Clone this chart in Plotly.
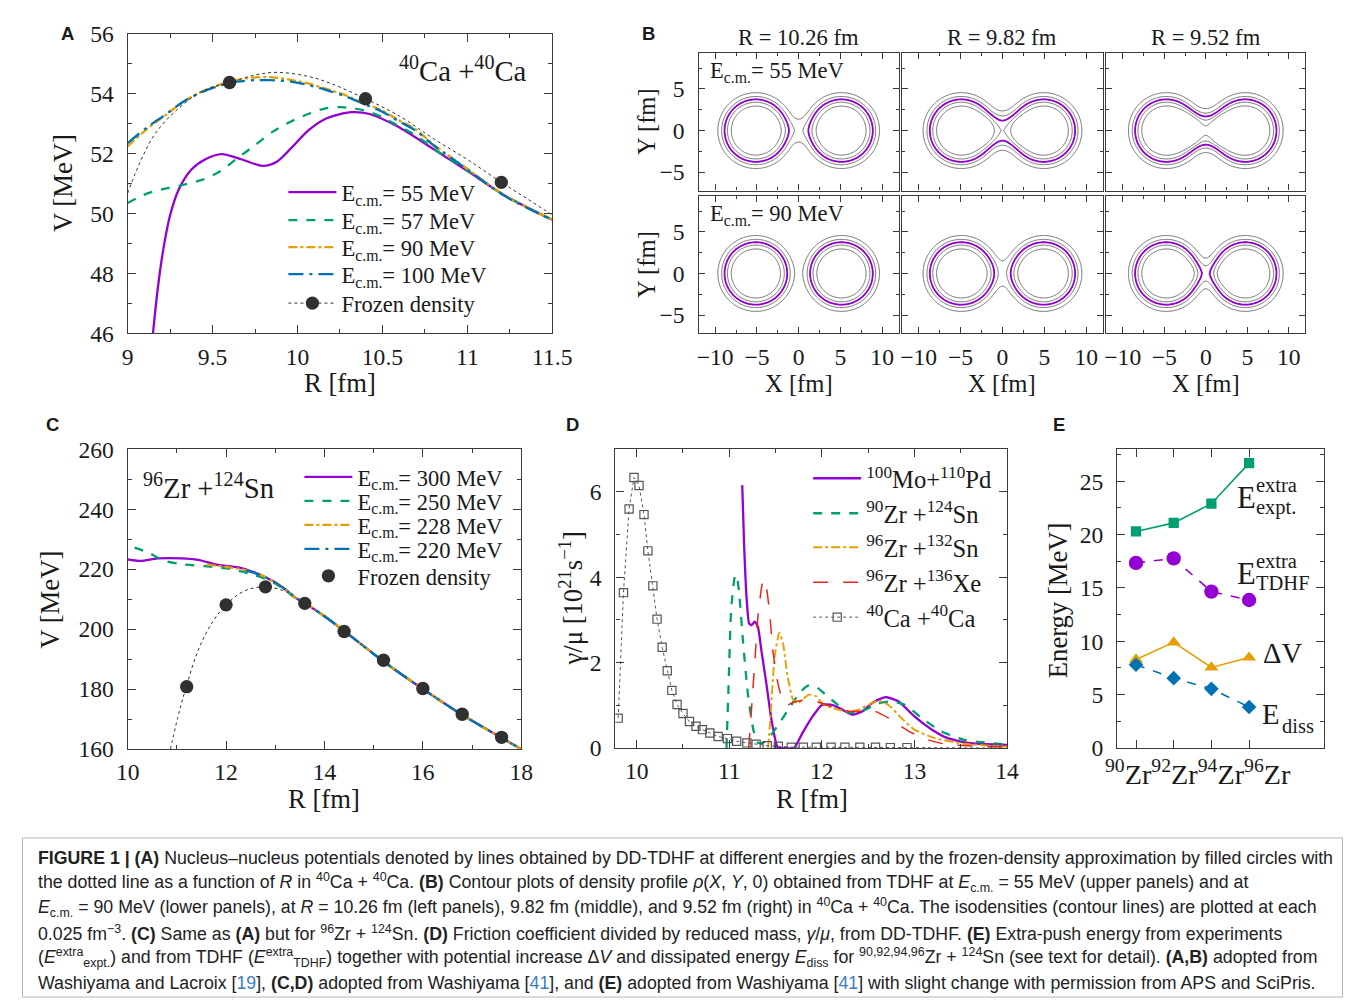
import numpy as np
import plotly.graph_objects as go

# Layout positions below are given in reference-picture pixels; the page is shown
# at scale S with offset (OX, OY), so every position and size is converted.
FW, FH = 1360, 1003
S, OX, OY = 0.975, 19.5, 20.3
SERIF = "Liberation Serif, Times New Roman, serif"
SANS = "Liberation Sans, Arial, sans-serif"
TXT = "#1a1a1a"
AXC = "#3a3a3a"

C_PURPLE = "#9400D3"
C_GREEN = "#009E73"
C_ORANGE = "#E69F00"
C_BLUE = "#0072B2"
C_RED = "#E5261A"
C_BLACK = "#303030"
C_GRAY = "#6e6e6e"

# ---------------- Panel A data (40Ca + 40Ca) ----------------
A_R55 = [9.149, 9.174, 9.206, 9.248, 9.30, 9.374, 9.458, 9.553, 9.668, 9.794, 9.878, 9.962,
         10.067, 10.172, 10.319, 10.424, 10.59, 10.80, 11.01, 11.22, 11.5]
A_V55 = [46.0, 47.34, 48.67, 49.9, 50.79, 51.46, 51.81, 51.98, 51.81, 51.59, 51.73, 52.18,
         52.79, 53.18, 53.38, 53.32, 52.9, 52.15, 51.38, 50.6, 49.79]
A_R57 = [9.0, 9.12, 9.227, 9.33, 9.437, 9.542, 9.647, 9.752, 9.857, 9.962, 10.067, 10.172,
         10.256, 10.38, 10.49, 10.59, 10.7, 10.8, 11.01, 11.22, 11.5]
A_V57 = [50.35, 50.68, 50.84, 50.96, 51.12, 51.4, 51.85, 52.29, 52.74, 53.07, 53.33, 53.52,
         53.55, 53.46, 53.24, 52.93, 52.6, 52.17, 51.4, 50.6, 49.79]
A_R90 = [9.0, 9.12, 9.227, 9.33, 9.437, 9.542, 9.647, 9.752, 9.836, 9.962, 10.067, 10.17,
         10.277, 10.38, 10.49, 10.59, 10.7, 10.8, 11.01, 11.22, 11.5]
A_V90 = [52.24, 52.85, 53.3, 53.74, 54.07, 54.3, 54.46, 54.54, 54.55, 54.46, 54.33, 54.16,
         53.96, 53.7, 53.46, 53.13, 52.79, 52.3, 51.45, 50.6, 49.8]
A_R100 = [9.0, 9.12, 9.227, 9.33, 9.437, 9.542, 9.647, 9.752, 9.836, 9.962, 10.067, 10.17,
          10.277, 10.38, 10.49, 10.59, 10.7, 10.8, 11.01, 11.22, 11.5]
A_V100 = [52.35, 52.9, 53.32, 53.74, 54.05, 54.27, 54.4, 54.45, 54.45, 54.4, 54.28, 54.12,
          53.92, 53.68, 53.42, 53.1, 52.75, 52.28, 51.43, 50.58, 49.78]
A_FZ_R = [9.0, 9.08, 9.164, 9.29, 9.437, 9.6, 9.75, 9.88, 10.067, 10.2, 10.4, 10.6, 10.8,
          11.0, 11.2, 11.35, 11.5]
A_FZ_V = [50.68, 51.8, 52.68, 53.46, 54.07, 54.37, 54.62, 54.71, 54.57, 54.33, 53.83, 53.25,
          52.5, 51.8, 51.04, 50.5, 49.95]
A_FZPT_R = [9.6, 10.4, 11.2]
A_FZPT_V = [54.37, 53.83, 51.04]
A_LABELS = ["E<sub>c.m.</sub>= 55 MeV", "E<sub>c.m.</sub>= 57 MeV",
            "E<sub>c.m.</sub>= 90 MeV", "E<sub>c.m.</sub>= 100 MeV", "Frozen density"]

# ---------------- Panel B (density contours) ----------------
B_SEP = [10.26, 9.82, 9.52]            # R [fm] per column
B_ROWS = ["E<sub>c.m.</sub>= 55 MeV", "E<sub>c.m.</sub>= 90 MeV"]
B_NECK_AMP = [[0.030, 0.075, 0.100], [0.0, 0.015, 0.034]]
B_NECK_RAD = [[1.20, 1.69, 1.78], [1.0, 1.50, 1.10]]
B_NECK_LEN = [[1.5, 2.5, 3.0], [1.0, 2.0, 2.5]]
RHO0, R_HALF, DIFF = 0.15, 3.75, 0.5
LEVEL_STEP, LEVEL_MAX, LEVEL_HI = 0.025, 0.125, 0.075

# ---------------- Panel C data (96Zr + 124Sn) ----------------
C_TAIL_R = [14.0, 14.4, 15.2, 16.0, 16.8, 17.6, 18.0]
C_TAIL_V = [204.3, 199.4, 189.2, 180.0, 171.4, 163.7, 160.0]
C_R300 = [10.0, 10.27, 10.61, 11.09, 11.43, 11.84, 12.25, 12.59, 12.79, 13.0, 13.2, 13.4, 13.6] + C_TAIL_R
C_V300 = [223.3, 222.8, 223.6, 223.6, 223.1, 221.4, 220.6, 218.9, 217.4, 215.6, 213.3, 210.6, 208.6] + C_TAIL_V
C_R250 = [10.14, 10.41, 10.75, 11.09, 11.57, 12.11, 12.52, 12.8, 13.0, 13.2, 13.4, 13.6] + C_TAIL_R
C_V250 = [227.2, 225.6, 222.8, 221.7, 221.0, 220.0, 218.3, 216.8, 215.2, 213.0, 210.5, 208.5] + C_TAIL_V
C_R228 = [11.6, 12.0, 12.3, 12.6, 12.8, 13.0, 13.2, 13.4, 13.6] + C_TAIL_R
C_V228 = [221.5, 220.8, 220.0, 218.7, 217.4, 215.6, 213.3, 210.6, 208.6] + C_TAIL_V
C_R220 = [12.4, 12.6, 12.8, 13.0, 13.2, 13.4, 13.6] + C_TAIL_R
C_V220 = [219.6, 218.6, 217.3, 215.6, 213.3, 210.7, 208.7] + C_TAIL_V
C_FZ_R = [10.87, 11.02, 11.19, 11.43, 11.70, 12.0, 12.38, 12.8, 13.2, 13.6, 14.0, 14.4, 15.2,
          16.0, 16.8, 17.6, 18.0]
C_FZ_V = [160.0, 170.6, 180.8, 192.8, 201.7, 208.1, 212.8, 214.1, 212.6, 208.6, 204.2, 199.2,
          189.6, 180.2, 171.6, 163.9, 160.0]
C_FZPT_R = [11.2, 12.0, 12.8, 13.6, 14.4, 15.2, 16.0, 16.8, 17.6]
C_FZPT_V = [180.8, 208.1, 214.1, 208.6, 199.2, 189.6, 180.2, 171.6, 163.9]
C_LABELS = ["E<sub>c.m.</sub>= 300 MeV", "E<sub>c.m.</sub>= 250 MeV",
            "E<sub>c.m.</sub>= 228 MeV", "E<sub>c.m.</sub>= 220 MeV", "Frozen density"]

# ---------------- Panel D data (friction) ----------------
D_MO_R = [11.14, 11.16, 11.186, 11.214, 11.24, 11.275, 11.31, 11.346, 11.4, 11.45, 11.51, 11.525,
          11.6, 11.7, 11.79, 11.9, 12.0, 12.11, 12.22, 12.33, 12.44, 12.54, 12.65, 12.7, 12.83,
          13.0, 13.19, 13.36, 13.58, 14.0]
D_MO_G = [6.16, 4.79, 3.55, 2.92, 2.88, 2.96, 2.84, 2.3, 1.52, 0.74, 0.08, 0.0,
          0.0, 0.0, 0.35, 0.74, 1.01, 1.01, 0.9, 0.78, 0.86, 1.05, 1.17, 1.19, 1.09,
          0.74, 0.43, 0.23, 0.12, 0.07]
D_ZR90_R = [10.97, 10.99, 11.02, 11.06, 11.08, 11.11, 11.15, 11.2, 11.26, 11.31, 11.36, 11.44,
            11.54, 11.65, 11.76, 11.85, 11.94, 12.04, 12.15, 12.26, 12.36, 12.47, 12.61, 12.76,
            12.9, 13.08, 13.29, 13.54, 14.0]
D_ZR90_G = [0.0, 1.29, 3.23, 4.01, 4.05, 3.55, 2.46, 1.29, 0.43, 0.12, 0.12, 0.27,
            0.58, 0.94, 1.29, 1.46, 1.43, 1.25, 1.05, 0.86, 0.82, 0.9, 1.05, 1.09,
            1.01, 0.7, 0.39, 0.19, 0.08]
D_SN132_R = [11.42, 11.45, 11.49, 11.54, 11.58, 11.63, 11.69, 11.74, 11.79, 11.86, 11.94, 12.0,
             12.11, 12.26, 12.4, 12.5, 12.61, 12.72, 12.86, 13.0, 13.22, 13.54, 14.0]
D_SN132_G = [0.0, 0.9, 2.14, 2.7, 2.46, 1.68, 1.13, 1.05, 1.13, 1.25, 1.21, 1.05,
             0.94, 0.86, 0.9, 1.01, 1.11, 1.01, 0.7, 0.43, 0.23, 0.1, 0.03]
D_XE_R = [11.21, 11.24, 11.275, 11.31, 11.35, 11.37, 11.4, 11.44, 11.47, 11.525, 11.58, 11.63,
          11.69, 11.83, 12.0, 12.15, 12.29, 12.4, 12.5, 12.58, 12.72, 12.94, 13.15, 13.36, 14.0]
D_XE_G = [0.0, 0.9, 1.99, 3.08, 3.78, 3.95, 3.78, 3.08, 2.3, 1.52, 1.09, 1.01,
          1.07, 1.13, 1.05, 0.94, 0.86, 0.86, 0.9, 0.86, 0.7, 0.39, 0.19, 0.08, 0.02]
D_CA_R = [9.80, 9.857, 9.918, 9.971, 10.025, 10.079, 10.121, 10.175, 10.22, 10.275, 10.33, 10.38,
          10.436, 10.5, 10.57, 10.64, 10.71, 10.79, 10.88, 10.98, 11.08, 11.19, 11.29, 11.41,
          11.53, 11.67, 11.8, 11.94, 12.1, 12.25, 12.41, 12.58, 12.74, 12.92, 13.88]
D_CA_G = [0.70, 3.64, 5.6, 6.34, 6.15, 5.47, 4.62, 3.80, 3.02, 2.36, 1.81, 1.35,
          1.02, 0.81, 0.62, 0.51, 0.43, 0.35, 0.27, 0.22, 0.16, 0.12, 0.09, 0.055,
          0.04, 0.02, 0.02, 0.02, 0.02, 0.02, 0.02, 0.02, 0.01, 0.01, 0.0]
D_LABELS = ["<sup>100</sup>Mo+<sup>110</sup>Pd", "<sup>90</sup>Zr +<sup>124</sup>Sn",
            "<sup>96</sup>Zr +<sup>132</sup>Sn", "<sup>96</sup>Zr +<sup>136</sup>Xe",
            "<sup>40</sup>Ca +<sup>40</sup>Ca"]

# ---------------- Panel E data ----------------
E_A = [90, 92, 94, 96]
E_TICKTEXT = ["<sup>90</sup>Zr", "<sup>92</sup>Zr", "<sup>94</sup>Zr", "<sup>96</sup>Zr"]
E_EXPT = [20.3, 21.1, 22.9, 26.7]
E_TDHF = [17.35, 17.77, 14.66, 13.87]
E_DV = [8.3, 9.9, 7.55, 8.48]
E_DISS = [7.8, 6.55, 5.55, 3.84]

# ---------------- helpers ----------------
fig = go.Figure()
LAY = {}


def fxp(X):
    return (X - OX) / S


def fyp(Y):
    return (Y - OY) / S


def fs(v):
    return v / S


def pxx(a, b):
    return [fxp(a) / FW, fxp(b) / FW]


def pxy(top, bot):
    return [1 - fyp(bot) / FH, 1 - fyp(top) / FH]


def add_axes(n, xdom, ydom, xr, yr, xkw=None, ykw=None):
    xid = "x" if n == 1 else f"x{n}"
    yid = "y" if n == 1 else f"y{n}"
    base = dict(showline=True, linecolor=AXC, linewidth=1.3, mirror="allticks",
                ticks="inside", tickcolor=AXC, tickwidth=1, ticklen=8,
                showgrid=False, zeroline=False, fixedrange=True,
                tickfont=dict(family=SERIF, size=fs(23), color=TXT))
    xa = dict(base)
    xa.update(domain=pxx(*xdom), range=xr, anchor=yid, ticklabelstandoff=2, tickangle=0)
    xa.update(xkw or {})
    ya = dict(base)
    ya.update(domain=pxy(*ydom), range=yr, anchor=xid, ticklabelstandoff=8)
    ya.update(ykw or {})
    LAY["xaxis" if n == 1 else f"xaxis{n}"] = xa
    LAY["yaxis" if n == 1 else f"yaxis{n}"] = ya
    return xid, yid


def minor(dt, ln=4):
    return dict(ticks="inside", ticklen=ln, tickcolor=AXC, dtick=dt, showgrid=False)


ANN = []


def ann(text, x, y, size, family=SERIF, xanchor="center", yanchor="middle", angle=0,
        color=TXT):
    ANN.append(dict(text=text, x=fxp(x) / FW, y=1 - fyp(y) / FH, xref="paper", yref="paper",
                    showarrow=False, xanchor=xanchor, yanchor=yanchor, textangle=angle,
                    font=dict(family=family, size=fs(size), color=color)))


LEGS = {}
ITEMW = 48


def new_legend(text_x, yc, size):
    k = len(LEGS) + 1
    name = "legend" if k == 1 else f"legend{k}"
    LEGS[name] = dict(x=(fxp(text_x) - 42 - (ITEMW - 30)) / FW, y=1 - fyp(yc) / FH,
                      xanchor="left", yanchor="middle", bgcolor="rgba(0,0,0,0)",
                      borderwidth=0, itemwidth=ITEMW,
                      font=dict(family=SERIF, size=fs(size), color=TXT),
                      itemclick=False, itemdoubleclick=False)
    return name


# ---------------- Panel A ----------------
xa, ya = add_axes(1, (127, 551), (33, 333), [9, 11.5], [46, 56],
                  dict(dtick=0.5, tick0=9, minor=minor(0.25)),
                  dict(dtick=2, tick0=46, minor=minor(1)))
A_ROWS = [192, 220, 247, 274, 303]
A_SER = [(A_R55, A_V55, C_PURPLE, "solid"), (A_R57, A_V57, C_GREEN, "dash"),
         (A_R90, A_V90, C_ORANGE, "dashdot"), (A_R100, A_V100, C_BLUE, "longdashdot")]
for (r, v, col, dash), lab, yc in zip(A_SER, A_LABELS[:4], A_ROWS):
    fig.add_trace(go.Scatter(x=r, y=v, mode="lines", name=lab, legend=new_legend(341, yc, 22),
                             line=dict(color=col, width=2.3, dash=dash, shape="spline", smoothing=0.8),
                             xaxis=xa, yaxis=ya, hoverinfo="skip"))
fig.add_trace(go.Scatter(x=A_FZ_R, y=A_FZ_V, mode="lines", showlegend=False,
                         line=dict(color=C_BLACK, width=1, dash="dot", shape="spline"),
                         xaxis=xa, yaxis=ya, hoverinfo="skip"))
fig.add_trace(go.Scatter(x=A_FZPT_R, y=A_FZPT_V, mode="markers", showlegend=False,
                         marker=dict(color=C_BLACK, size=fs(13)), xaxis=xa, yaxis=ya, hoverinfo="skip"))
fig.add_trace(go.Scatter(x=[None], y=[None], mode="lines+markers", name=A_LABELS[4],
                         legend=new_legend(341, A_ROWS[4], 22),
                         line=dict(color=C_BLACK, width=1, dash="dot"),
                         marker=dict(color=C_BLACK, size=fs(13)), xaxis=xa, yaxis=ya))
ann("<b>A</b>", 67, 33, 18, SANS)
ann("<sup>40</sup>Ca +<sup>40</sup>Ca", 462, 68, 28)
ann("V [MeV]", 62, 183, 26, angle=-90)
ann("R [fm]", 339, 383, 26)

# ---------------- Panel B ----------------
BX = np.linspace(-12, 12, 241)
BY = np.linspace(-7.5, 9.6, 172)
GX, GY = np.meshgrid(BX, BY)


def fermi(d):
    return 1.0 / (1.0 + np.exp((d - R_HALF) / DIFF))


def density(sep, amp, rad, length):
    c = sep / 2.0
    rho = RHO0 * (fermi(np.hypot(GX - c, GY)) + fermi(np.hypot(GX + c, GY)))
    if amp > 0:
        rho = rho + amp * np.exp(-(GX / length) ** 2) / (1.0 + np.exp((np.abs(GY) - rad) / DIFF))
    return rho


B_COLS = [(697, 897), (900, 1101), (1104, 1303)]
B_ROWPX = [(52, 190), (195, 333)]
n = 2
for ri in range(2):
    for ci in range(3):
        xkw = dict(tickvals=[-10, -5, 0, 5, 10], minor=minor(2.5, 3), ticklen=6,
                   showticklabels=(ri == 1))
        ykw = dict(tickvals=[-5, 0, 5], minor=minor(2.5, 3), ticklen=6,
                   showticklabels=(ci == 0))
        bx, by = add_axes(n, B_COLS[ci], B_ROWPX[ri], [-12, 12], [-7.2, 9.36], xkw, ykw)
        z = density(B_SEP[ci], B_NECK_AMP[ri][ci], B_NECK_RAD[ri][ci], B_NECK_LEN[ri][ci])
        fig.add_trace(go.Contour(x=BX, y=BY, z=z, showscale=False, hoverinfo="skip",
                                 contours=dict(coloring="lines", start=LEVEL_STEP, end=LEVEL_MAX,
                                               size=LEVEL_STEP),
                                 colorscale=[[0, C_GRAY], [1, C_GRAY]],
                                 line=dict(width=1.0), xaxis=bx, yaxis=by))
        fig.add_trace(go.Contour(x=BX, y=BY, z=z, showscale=False, hoverinfo="skip",
                                 contours=dict(coloring="lines", start=LEVEL_HI, end=LEVEL_HI + 0.001,
                                               size=1.0),
                                 colorscale=[[0, C_PURPLE], [1, C_PURPLE]],
                                 line=dict(width=1.8), xaxis=bx, yaxis=by))
        n += 1
ann("<b>B</b>", 647, 33, 18, SANS)
for ci, r in enumerate(B_SEP):
    xc = (B_COLS[ci][0] + B_COLS[ci][1]) / 2
    ann(f"R = {r:.2f} fm", xc, 37, 22)
    ann("X [fm]", xc, 383, 24)
for ri in range(2):
    ann(B_ROWS[ri], 706, B_ROWPX[ri][0] + 19, 22, xanchor="left")
    ann("Y [fm]", 645, (B_ROWPX[ri][0] + B_ROWPX[ri][1]) / 2, 24, angle=-90)

# ---------------- Panel C ----------------
xc_, yc_ = add_axes(8, (127, 520), (449, 749), [10, 18], [160, 260],
                    dict(dtick=2, tick0=10, minor=minor(1)),
                    dict(dtick=20, tick0=160, minor=minor(10)))
C_ROWS = [477, 501, 525, 549, 576]
C_SER = [(C_R300, C_V300, C_PURPLE, "solid"), (C_R250, C_V250, C_GREEN, "dash"),
         (C_R228, C_V228, C_ORANGE, "dashdot"), (C_R220, C_V220, C_BLUE, "longdashdot")]
fig.add_trace(go.Scatter(x=C_FZ_R, y=C_FZ_V, mode="lines", showlegend=False,
                         line=dict(color=C_BLACK, width=1, dash="dot", shape="spline"),
                         xaxis=xc_, yaxis=yc_, hoverinfo="skip"))
for (r, v, col, dash), lab, yc in zip(C_SER, C_LABELS[:4], C_ROWS):
    fig.add_trace(go.Scatter(x=r, y=v, mode="lines", name=lab, legend=new_legend(357, yc, 22),
                             line=dict(color=col, width=2.3, dash=dash, shape="spline", smoothing=0.8),
                             xaxis=xc_, yaxis=yc_, hoverinfo="skip"))
fig.add_trace(go.Scatter(x=C_FZPT_R, y=C_FZPT_V, mode="markers", name=C_LABELS[4],
                         legend=new_legend(357, C_ROWS[4], 22),
                         marker=dict(color=C_BLACK, size=fs(13)), xaxis=xc_, yaxis=yc_, hoverinfo="skip"))
ann("<b>C</b>", 52, 424, 18, SANS)
ann("<sup>96</sup>Zr +<sup>124</sup>Sn", 140, 486, 28, xanchor="left")
ann("V [MeV]", 50, 600, 26, angle=-90)
ann("R [fm]", 323, 799, 26)

# ---------------- Panel D ----------------
xd, yd = add_axes(9, (614, 1005), (449, 748), [9.77, 14], [0, 7],
                  dict(dtick=1, tick0=10, minor=minor(0.5)),
                  dict(dtick=2, tick0=0, minor=minor(1)))
D_ROWS = [478, 513, 547, 582, 617]
D_SER = [(D_MO_R, D_MO_G, C_PURPLE, "solid", 2.3), (D_ZR90_R, D_ZR90_G, C_GREEN, "dash", 2.3),
         (D_SN132_R, D_SN132_G, C_ORANGE, "dashdot", 1.9), (D_XE_R, D_XE_G, C_RED, "longdash", 1.5)]
for (r, g, col, dash, wd), lab, yc in zip(D_SER, D_LABELS[:4], D_ROWS):
    fig.add_trace(go.Scatter(x=r, y=g, mode="lines", name=lab, legend=new_legend(865, yc, 24),
                             line=dict(color=col, width=wd, dash=dash, shape="spline", smoothing=0.5),
                             xaxis=xd, yaxis=yd, hoverinfo="skip"))
fig.add_trace(go.Scatter(x=D_CA_R, y=D_CA_G, mode="lines+markers", name=D_LABELS[4],
                         legend=new_legend(865, D_ROWS[4], 24),
                         line=dict(color="#555555", width=1, dash="dot"),
                         marker=dict(symbol="square-open", size=fs(8), color="#555555", line=dict(width=1.2)),
                         xaxis=xd, yaxis=yd, hoverinfo="skip"))
ann("<b>D</b>", 571, 424, 18, SANS)
ann("γ/μ [10<sup>21</sup>s<sup>−1</sup>]", 570, 598, 26, angle=-90)
ann("R [fm]", 810, 799, 26)

# ---------------- Panel E ----------------
xe, ye = add_axes(10, (1115, 1322), (449, 748), [89, 100], [0, 28],
                  dict(tickvals=E_A, showticklabels=False),
                  dict(dtick=5, tick0=0, minor=minor(2.5)))
E_SER = [(E_EXPT, C_GREEN, "solid", "square", 10), (E_TDHF, C_PURPLE, "dash", "circle", 14),
         (E_DV, C_ORANGE, "solid", "triangle-up", 12), (E_DISS, C_BLUE, "dash", "diamond", 11)]
for vals, col, dash, sym, sz in E_SER:
    fig.add_trace(go.Scatter(x=E_A, y=vals, mode="lines+markers", showlegend=False,
                             line=dict(color=col, width=1.6, dash=dash),
                             marker=dict(symbol=sym, size=fs(sz), color=col),
                             xaxis=xe, yaxis=ye, hoverinfo="skip"))
# the isotope labels are written as one string under the axis, as in the original
ann("".join(E_TICKTEXT), 1101, 772, 27.5, xanchor="left")
ann("<b>E</b>", 1057, 424, 18, SANS)
ann("Energy [MeV]", 1056, 600, 26, angle=-90)
ann("E", 1244, 498, 30)
ann("extra", 1252, 485, 20, xanchor="left")
ann("expt.", 1252, 507, 20, xanchor="left")
ann("E", 1244, 574, 30)
ann("extra", 1252, 561, 20, xanchor="left")
ann("TDHF", 1252, 583, 20, xanchor="left")
ann("ΔV", 1280, 653, 28)
ann("E", 1269, 714, 28)
ann("diss", 1278, 726, 20, xanchor="left")

# ---------------- Caption ----------------
LINK = "<span style='color:#3b7dc4'>{}</span>"
CAPTION = [
    "<b>FIGURE 1 | (A)</b> Nucleus–nucleus potentials denoted by lines obtained by DD-TDHF at different energies and by the frozen-density approximation by filled circles with",
    "the dotted line as a function of <i>R</i> in <sup>40</sup>Ca + <sup>40</sup>Ca. <b>(B)</b> Contour plots of density profile <i>ρ</i>(<i>X</i>, <i>Y</i>, 0) obtained from TDHF at <i>E</i><sub>c.m.</sub> = 55 MeV (upper panels) and at",
    "<i>E</i><sub>c.m.</sub> = 90 MeV (lower panels), at <i>R</i> = 10.26 fm (left panels), 9.82 fm (middle), and 9.52 fm (right) in <sup>40</sup>Ca + <sup>40</sup>Ca. The isodensities (contour lines) are plotted at each",
    "0.025 fm<sup>−3</sup>. <b>(C)</b> Same as <b>(A)</b> but for <sup>96</sup>Zr + <sup>124</sup>Sn. <b>(D)</b> Friction coefficient divided by reduced mass, <i>γ</i>/<i>μ</i>, from DD-TDHF. <b>(E)</b> Extra-push energy from experiments",
    "(<i>E</i><sup>extra</sup><sub>expt.</sub>) and from TDHF (<i>E</i><sup>extra</sup><sub>TDHF</sub>) together with potential increase Δ<i>V</i> and dissipated energy <i>E</i><sub>diss</sub> for <sup>90,92,94,96</sup>Zr + <sup>124</sup>Sn (see text for detail). <b>(A,B)</b> adopted from",
    "Washiyama and Lacroix [" + LINK.format("19") + "], <b>(C,D)</b> adopted from Washiyama [" + LINK.format("41") + "], and <b>(E)</b> adopted from Washiyama [" + LINK.format("41") + "] with slight change with permission from APS and SciPris.",
]
CAP_Y = [858, 883, 908, 933, 958, 983]
for line, yy in zip(CAPTION, CAP_Y):
    ann(line, 35, yy, 17.3, SANS, xanchor="left", color="#222222")

SHAPES = [dict(type="rect", xref="paper", yref="paper", x0=fxp(22) / FW, x1=fxp(1340) / FW,
               y0=0.001, y1=1 - fyp(838) / FH, line=dict(color="#b5b5b5", width=1))]

fig.update_layout(
    width=FW, height=FH, margin=dict(l=0, r=0, t=0, b=0),
    paper_bgcolor="white", plot_bgcolor="white",
    showlegend=True,
    annotations=ANN, shapes=SHAPES,
    **LEGS, **LAY,
)

fig.write_html("out.html")
